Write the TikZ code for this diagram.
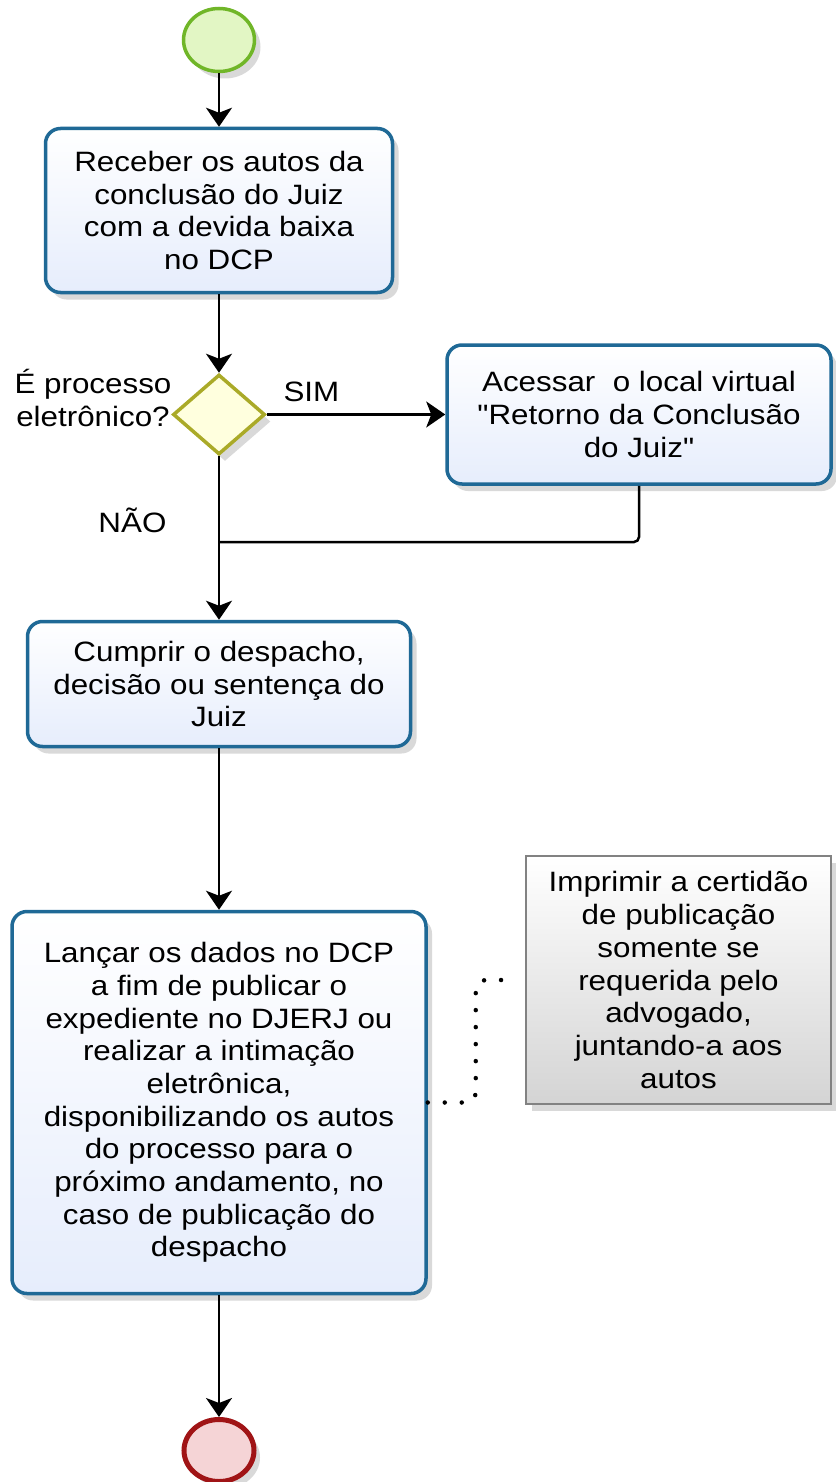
\documentclass[tikz,border=0pt]{standalone}
\usepackage{fontspec}
\newfontfamily\fontediagrama{Liberation Sans}[FakeStretch=1.12]
\usetikzlibrary{shapes.geometric,arrows.meta,shadows}
\definecolor{azulborda}{RGB}{31,105,150}
\definecolor{azulfundo}{RGB}{230,237,252}
\definecolor{verdeborda}{RGB}{112,182,40}
\definecolor{verdefundo}{RGB}{226,246,196}
\definecolor{vermelhoborda}{RGB}{160,20,22}
\definecolor{vermelhofundo}{RGB}{245,212,214}
\definecolor{amareloborda}{RGB}{170,170,40}
\definecolor{amarelofundo}{RGB}{255,255,222}
\definecolor{cinzaborda}{RGB}{130,130,130}
\definecolor{cinzafundo}{RGB}{212,212,212}
\tikzstyle{sombra} = [drop shadow={shadow xshift=6pt, shadow yshift=-7pt, opacity=0.15, fill=black}]
\tikzstyle{tarefa} = [rectangle, rounded corners=15pt, align=center, draw=azulborda, line width=3.5pt, top color=white, bottom color=azulfundo, sombra]
\tikzstyle{decisao} = [diamond, draw=amareloborda, line width=3.5pt, fill=amarelofundo, minimum width=92pt, minimum height=80pt, inner sep=0pt, sombra]
\tikzstyle{inicio} = [ellipse, draw=verdeborda, line width=3.5pt, fill=verdefundo, minimum width=71pt, minimum height=63pt, sombra]
\tikzstyle{fim} = [ellipse, draw=vermelhoborda, line width=5pt, fill=vermelhofundo, minimum width=70pt, minimum height=62pt, sombra]
\tikzstyle{anotacao} = [rectangle, draw=cinzaborda, line width=1.5pt, top color=white, bottom color=cinzafundo, align=center, sombra]
\tikzstyle{arrow} = [line width=2.5pt, -{Stealth[length=19pt, width=26pt, inset=5pt]}]
\tikzstyle{linha} = [line width=2.5pt]
\tikzstyle{associacao} = [line width=4.5pt, line cap=round, dash pattern=on 0pt off 17pt]

\begin{document}
\begin{tikzpicture}[x=1pt, y=-1pt, font=\fontediagrama\fontsize{28pt}{32.7pt}\selectfont]
    \useasboundingbox (0,0) rectangle (835,1482);
    	% Eventos e tarefas
    	\node (inicio) [inicio] at (219,40) {};
    	\node (receber) [tarefa, below of=inicio, node distance=170.5pt, minimum width=347pt, minimum height=164pt] {Receber os autos da\\conclusão do Juiz\\com a devida baixa\\no DCP};
    	\node (eletronico) [decisao, below of=receber, node distance=204pt] {};
    	\node (acessar) [tarefa, right of=eletronico, node distance=420pt, minimum width=384pt, minimum height=139pt] {Acessar\ \ o local virtual\\"Retorno da Conclusão\\do Juiz"};
    	\node (cumprir) [tarefa, below of=eletronico, node distance=269.5pt, minimum width=383pt, minimum height=125pt] {Cumprir o despacho,\\decisão ou sentença do\\Juiz};
    	\node (lancar) [tarefa, below of=cumprir, node distance=418.5pt, minimum width=414pt, minimum height=382pt] {Lançar os dados no DCP\\a fim de publicar o\\expediente no DJERJ ou\\realizar a intimação\\eletrônica,\\disponibilizando os autos\\do processo para o\\próximo andamento, no\\caso de publicação do\\despacho};
    	\node (fimproc) [fim, below of=lancar, node distance=348pt] {};
    	\node (imprimir) [anotacao, minimum width=305pt, minimum height=248pt] at (678.5,980) {Imprimir a certidão\\de publicação\\somente se\\requerida pelo\\advogado,\\juntando-a aos\\autos};
    	\node (pergunta) [align=center] at (93,398) {É processo\\eletrônico?};
    	% Fluxo
        \draw[arrow] (inicio) -- (receber);
        \draw[arrow] (receber) -- (eletronico);
        \draw[arrow] (eletronico) -- node[pos=0.25, above=8pt] (sim) {SIM} (acessar);
        \draw[arrow] (eletronico) -- node[pos=0.39, left=48pt] (nao) {NÃO} (cumprir);
        \coordinate (juncao) at (219,542);
        \draw[linha, rounded corners=5pt] (acessar) |- (juncao);
        \draw[arrow] (cumprir) -- (lancar);
        \draw[arrow] (lancar) -- (fimproc);
        \draw[associacao, rounded corners=10pt] (lancar.east) -- ++(48,0) |- ([xshift=-10pt]imprimir.west);
    \end{tikzpicture}
\end{document}
